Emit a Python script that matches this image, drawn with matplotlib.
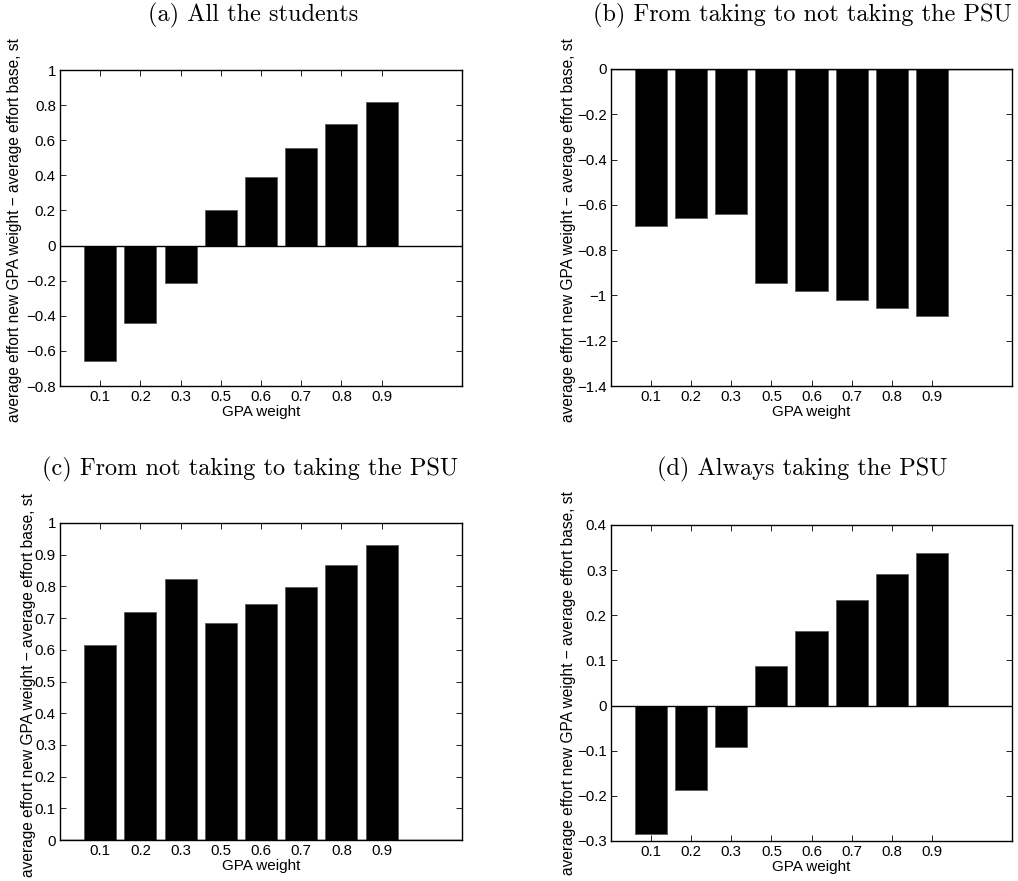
import numpy as np
import matplotlib
matplotlib.use("Agg")
from matplotlib import pyplot as plt
from matplotlib.ticker import FuncFormatter

plt.rcParams['font.family'] = ['Liberation Sans', 'DejaVu Sans']

# GPA weights shown on the x axis (0.4 is not in the figure)
gpa_labels = ["0.1", "0.2", "0.3", "0.5", "0.6", "0.7", "0.8", "0.9"]

# average effort new GPA weight - average effort base
all_students = [-0.66, -0.44, -0.215, 0.205, 0.39, 0.555, 0.695, 0.82]
taking_to_not = [-0.695, -0.66, -0.64, -0.945, -0.98, -1.02, -1.055, -1.09]
not_to_taking = [0.615, 0.72, 0.822, 0.685, 0.743, 0.798, 0.866, 0.932]
always_taking = [-0.285, -0.188, -0.092, 0.088, 0.165, 0.234, 0.291, 0.337]

titles = ["(a) All the students",
          "(b) From taking to not taking the PSU",
          "(c) From not taking to taking the PSU",
          "(d) Always taking the PSU"]

# the label is cut off at the top of each sub-figure in the original
ylabel_text = "average effort new GPA weight \u2212 average effort base, st"

W, H = 1018, 881
fig = plt.figure(figsize=(W/100, H/100), dpi=100)

def px_axes(left, top, right, bottom):
    return fig.add_axes([left/W, 1-bottom/H, (right-left)/W, (bottom-top)/H])

def fmt(v, pos):
    s = "%g" % round(v, 6)
    if s == "-0":
        s = "0"
    return s.replace("-", "\u2212")

panels = [
    # data, ylim, ystep, axes box (px), title pos, ylabel x, ylabel bottom
    (all_students, (-0.8, 1.0), 0.2, (60, 70, 462, 386), (253, 15), 15, 422),
    (taking_to_not, (-1.4, 0.0), 0.2, (611, 69, 1012, 386), (802, 15), 568, 422),
    (not_to_taking, (0.0, 1.0), 0.1, (60, 523, 462, 840), (250, 469), 29, 877),
    (always_taking, (-0.3, 0.4), 0.1, (611, 525, 1012, 841), (802, 469), 568, 875),
]

x = np.arange(1, len(gpa_labels)+1)

for (vals, ylim, ystep, box, tpos, lx, lbot), title in zip(panels, titles):
    ax = px_axes(*box)
    ax.bar(x, vals, width=0.8, color='k', edgecolor='0.35', linewidth=0.6, zorder=2)
    ax.axhline(0, color='k', lw=1.0, zorder=3)
    ax.set_xlim(0, 10)
    ax.set_ylim(*ylim)
    ax.set_xticks(x)
    ax.set_xticklabels(gpa_labels)
    ax.set_yticks(np.arange(ylim[0], ylim[1] + ystep/2, ystep))
    ax.yaxis.set_major_formatter(FuncFormatter(fmt))
    ax.tick_params(direction='in', length=4, width=0.6, top=True, right=True,
                   labelsize=10.8, pad=3, colors='k')
    for sp in ax.spines.values():
        sp.set_linewidth(1.0)
    ax.set_xlabel("GPA weight", fontsize=11, labelpad=0.5)

    fig.text(tpos[0]/W, 1-tpos[1]/H, title, family='cmr10', fontsize=17.5,
             ha='center', va='center')

    fig.text(lx/W, 1-lbot/H, ylabel_text, rotation=90, fontsize=11.2,
             ha='center', va='bottom')

fig.savefig("out.png", dpi=100)
